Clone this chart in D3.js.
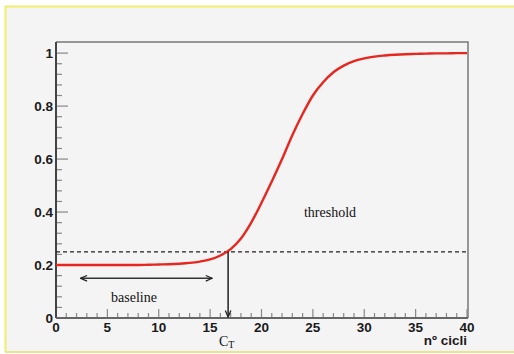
<!DOCTYPE html>
<html>
<head>
<meta charset="utf-8">
<script src="https://cdn.jsdelivr.net/npm/d3@7"></script>
<style>
  html, body { margin: 0; padding: 0; background: #fff; }
  svg { display: block; }
</style>
</head>
<body>
<svg id="chart" width="514" height="354"></svg>
<script>
// values
const cycles = d3.range(0, 41);
const fluorescence = [
  0.200, 0.200, 0.200, 0.200, 0.200, 0.200, 0.200, 0.200, 0.200, 0.201,
  0.202, 0.203, 0.205, 0.208, 0.213, 0.221, 0.236, 0.260, 0.300, 0.360,
  0.435, 0.515, 0.600, 0.690, 0.770, 0.840, 0.890, 0.928, 0.953, 0.970,
  0.980, 0.987, 0.991, 0.994, 0.996, 0.997, 0.998, 0.999, 0.999, 1.000,
  1.000
];
const xTicks = [0, 5, 10, 15, 20, 25, 30, 35, 40];
const yTicks = [0, 0.2, 0.4, 0.6, 0.8, 1];
const thresholdValue = 0.25;
const ctCycle = 16.75;
const baselineFrom = 2.4, baselineTo = 15.2, baselineLevel = 0.15;

const svg = d3.select('#chart');

// outer panel
svg.append('rect').attr('x', 5).attr('y', 6).attr('width', 514).attr('height', 346)
  .attr('fill', '#f4f4f4');
svg.append('line').attr('x1', 5).attr('x2', 514).attr('y1', 6.5).attr('y2', 6.5)
  .attr('stroke', '#f2ee6a').attr('stroke-width', 2);
svg.append('line').attr('x1', 5.5).attr('x2', 5.5).attr('y1', 6).attr('y2', 352)
  .attr('stroke', '#f2ee6a').attr('stroke-width', 2);
svg.append('line').attr('x1', 5).attr('x2', 514).attr('y1', 352).attr('y2', 352)
  .attr('stroke', '#e8e490').attr('stroke-width', 2);

const x = d3.scaleLinear().domain([0, 40]).range([56, 467]);
const y = d3.scaleLinear().domain([0, 1.042]).range([318, 42]);

// frame (top and right)
svg.append('path')
  .attr('d', `M${x(0)},${y(1.042)}H${x(40) + 1}V${y(0)}`)
  .attr('fill', 'none').attr('stroke', '#777').attr('stroke-width', 1.5);

// ticks
const gx = svg.append('g');
d3.range(0, 41).forEach(v => {
  const major = v % 5 === 0;
  gx.append('line')
    .attr('x1', x(v)).attr('x2', x(v))
    .attr('y1', y(0)).attr('y2', y(0) - (major ? 9 : 5))
    .attr('stroke', '#888').attr('stroke-width', 1.2);
});
d3.range(0, 26).forEach(i => {
  const v = i * 0.04;
  const major = i % 5 === 0;
  gx.append('line')
    .attr('x1', x(0)).attr('x2', x(0) + (major ? 12 : 6))
    .attr('y1', y(v)).attr('y2', y(v))
    .attr('stroke', '#888').attr('stroke-width', 1.2);
});

// tick labels
const sans = 'Liberation Sans, Arial, sans-serif';
svg.append('g').selectAll('text').data(xTicks).join('text')
  .attr('x', d => x(d)).attr('y', 331.5)
  .attr('text-anchor', 'middle')
  .attr('font-family', sans)
  .attr('font-weight', 'bold').attr('font-size', 13.5).attr('fill', '#1a1a1a')
  .text(d => d);
svg.append('g').selectAll('text').data(yTicks).join('text')
  .attr('x', 53).attr('y', d => y(d) + 5)
  .attr('text-anchor', 'end')
  .attr('font-family', sans)
  .attr('font-weight', 'bold').attr('font-size', 13.5).attr('fill', '#1a1a1a')
  .text(d => d);

// axes lines
svg.append('line').attr('x1', x(0)).attr('x2', x(0)).attr('y1', y(1.042)).attr('y2', y(0))
  .attr('stroke', '#444').attr('stroke-width', 2);
svg.append('line').attr('x1', x(0)).attr('x2', x(40) + 1).attr('y1', y(0)).attr('y2', y(0))
  .attr('stroke', '#666').attr('stroke-width', 2);

svg.append('text').attr('x', 467).attr('y', 345).attr('text-anchor', 'end')
  .attr('font-family', sans)
  .attr('font-weight', 'bold').attr('font-size', 13.5).attr('fill', '#1a1a1a')
  .text('nº cicli');

// threshold line
svg.append('line').attr('x1', x(0)).attr('x2', x(40) + 1)
  .attr('y1', y(thresholdValue)).attr('y2', y(thresholdValue))
  .attr('stroke', '#222').attr('stroke-width', 1.2).attr('stroke-dasharray', '4,3');

// curve
const line = d3.line().x(d => x(d[0])).y(d => y(d[1])).curve(d3.curveMonotoneX);
svg.append('path').datum(cycles.map((c, i) => [c, fluorescence[i]]))
  .attr('d', line).attr('fill', 'none')
  .attr('stroke', '#e6261f').attr('stroke-width', 2.4);

// arrows
const defs = svg.append('defs');
defs.append('marker').attr('id', 'head').attr('viewBox', '0 0 10 10')
  .attr('refX', 9).attr('refY', 5).attr('markerWidth', 8).attr('markerHeight', 8)
  .attr('orient', 'auto-start-reverse').attr('markerUnits', 'userSpaceOnUse')
  .append('path').attr('d', 'M1,1.5L9,5L1,8.5').attr('fill', 'none')
  .attr('stroke', '#222').attr('stroke-width', 1.6);

svg.append('line').attr('x1', x(ctCycle)).attr('x2', x(ctCycle))
  .attr('y1', y(thresholdValue)).attr('y2', y(0) - 1)
  .attr('stroke', '#111').attr('stroke-width', 1.4)
  .attr('marker-end', 'url(#head)');

svg.append('line').attr('x1', x(baselineFrom)).attr('x2', x(baselineTo))
  .attr('y1', y(baselineLevel)).attr('y2', y(baselineLevel))
  .attr('stroke', '#333').attr('stroke-width', 1.6)
  .attr('marker-start', 'url(#head)').attr('marker-end', 'url(#head)');

// annotations
const serif = 'Liberation Serif, Times New Roman, serif';
svg.append('text').attr('x', 134).attr('y', 302).attr('text-anchor', 'middle')
  .attr('font-family', serif).attr('font-size', 14).attr('fill', '#111')
  .text('baseline');
svg.append('text').attr('x', 330).attr('y', 217).attr('text-anchor', 'middle')
  .attr('font-family', serif).attr('font-size', 14).attr('fill', '#111')
  .text('threshold');
const ct = svg.append('text').attr('x', 219).attr('y', 346)
  .attr('font-family', serif).attr('font-size', 14).attr('fill', '#111');
ct.append('tspan').text('C');
ct.append('tspan').attr('font-size', 10).attr('dy', 2).text('T');
</script>
</body>
</html>
